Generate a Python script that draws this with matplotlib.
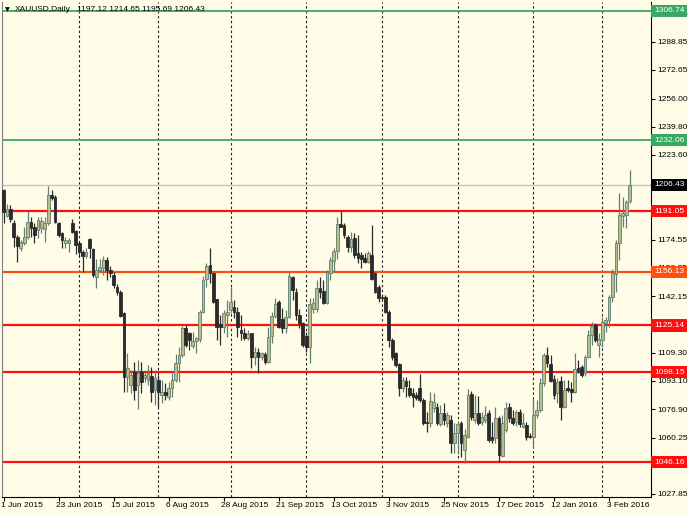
import matplotlib
matplotlib.use("Agg")
import matplotlib.pyplot as plt
import matplotlib.transforms as mtransforms
import numpy as np

plt.rcParams['font.family'] = ['Liberation Sans', 'DejaVu Sans']

# ---------------- data (XAUUSD daily) ----------------
opens = [1203.4, 1188.4, 1192.2, 1184.5, 1176.4, 1169.7, 1172.9, 1176.4, 1185.1, 1182.2,
         1180.3, 1181.2, 1180.6, 1184.1, 1200.5, 1199.1, 1184.5, 1178.3, 1172.6, 1172.6,
         1184.1, 1179.9, 1172.6, 1167.8, 1165.2, 1174.9, 1169.1, 1153.3, 1157.2, 1158.1,
         1162.9, 1157.2, 1154.3, 1147.2, 1144.2, 1132.1, 1095.6, 1090.5, 1098.5, 1090.8,
         1098.5, 1094.6, 1093.6, 1096.0, 1087.9, 1093.6, 1085.0, 1086.9, 1084.0, 1088.8,
         1093.6, 1103.3, 1108.1, 1123.9, 1120.6, 1113.3, 1116.4, 1117.1, 1133.1, 1151.8,
         1160.1, 1155.2, 1140.2, 1126.0, 1124.1, 1131.2, 1134.1, 1135.6, 1133.1, 1122.5,
         1121.0, 1117.7, 1120.6, 1107.1, 1109.6, 1107.1, 1108.7, 1104.2, 1119.1, 1130.6,
         1138.9, 1129.0, 1123.5, 1129.8, 1153.3, 1144.7, 1131.2, 1126.8, 1119.1, 1112.9,
         1134.9, 1134.5, 1146.6, 1145.2, 1138.3, 1155.6, 1162.5, 1168.3, 1183.7, 1183.2,
         1176.4, 1170.3, 1175.5, 1166.8, 1165.8, 1163.9, 1162.0, 1165.8, 1155.2, 1147.2,
         1141.8, 1141.8, 1133.1, 1116.7, 1109.0, 1102.9, 1088.8, 1093.1, 1088.8, 1086.0,
         1085.0, 1088.8, 1082.1, 1069.6, 1069.0, 1077.3, 1078.3, 1068.2, 1074.8, 1068.6,
         1070.6, 1057.1, 1062.9, 1068.6, 1053.2, 1060.9, 1085.6, 1070.6, 1074.4, 1069.6,
         1070.6, 1074.4, 1060.9, 1060.0, 1071.5, 1049.8, 1064.8, 1077.9, 1071.5, 1069.6,
         1075.4, 1066.7, 1067.7, 1061.3, 1060.9, 1073.4, 1076.3, 1091.7, 1108.1, 1102.9,
         1094.0, 1085.9, 1093.3, 1078.3, 1088.8, 1088.3, 1086.9, 1100.4, 1101.4, 1097.5,
         1107.1, 1119.6, 1125.4, 1113.9, 1116.7, 1126.4, 1128.3, 1141.8, 1154.9, 1172.9,
         1188.5, 1188.9, 1197.12]
highs = [1203.8, 1195.3, 1194.7, 1186.0, 1177.4, 1174.5, 1182.2, 1191.4, 1188.0, 1184.5,
         1187.6, 1187.6, 1188.0, 1205.7, 1203.4, 1200.5, 1185.1, 1179.3, 1176.4, 1175.5,
         1186.4, 1180.3, 1173.5, 1168.7, 1169.7, 1175.5, 1169.7, 1163.3, 1163.3, 1165.2,
         1164.9, 1159.5, 1156.2, 1149.1, 1145.6, 1133.1, 1109.0, 1099.4, 1104.2, 1105.2,
         1104.2, 1098.5, 1102.3, 1101.4, 1099.4, 1096.5, 1093.6, 1091.7, 1092.7, 1097.5,
         1108.7, 1112.9, 1124.8, 1125.4, 1121.6, 1121.6, 1118.7, 1134.1, 1153.7, 1161.0,
         1169.7, 1155.6, 1140.6, 1131.2, 1134.1, 1139.9, 1147.6, 1139.9, 1136.0, 1131.2,
         1123.5, 1122.5, 1121.0, 1112.9, 1111.9, 1110.0, 1110.0, 1124.4, 1133.1, 1140.8,
         1139.9, 1135.0, 1134.1, 1156.2, 1153.7, 1146.6, 1134.5, 1127.3, 1121.6, 1140.8,
         1140.8, 1151.4, 1153.3, 1151.4, 1157.2, 1164.9, 1169.7, 1188.0, 1191.4, 1184.5,
         1177.4, 1179.3, 1178.4, 1177.4, 1167.8, 1166.8, 1168.3, 1183.2, 1156.2, 1148.5,
         1142.2, 1142.7, 1134.1, 1117.7, 1110.0, 1103.3, 1095.6, 1095.6, 1093.6, 1088.8,
         1086.9, 1097.1, 1083.1, 1075.4, 1086.9, 1086.3, 1080.2, 1079.2, 1080.2, 1075.4,
         1073.4, 1068.6, 1069.6, 1070.2, 1065.2, 1088.3, 1087.3, 1085.0, 1084.4, 1075.4,
         1078.7, 1076.3, 1069.6, 1078.3, 1072.9, 1073.4, 1081.2, 1080.6, 1076.3, 1076.3,
         1076.7, 1074.4, 1069.6, 1062.9, 1082.5, 1082.1, 1094.6, 1109.4, 1112.5, 1108.1,
         1096.5, 1094.6, 1095.9, 1093.6, 1093.6, 1092.7, 1109.0, 1105.2, 1102.3, 1108.1,
         1122.5, 1127.3, 1126.4, 1120.6, 1130.2, 1130.2, 1142.7, 1157.5, 1174.5, 1201.4,
         1199.5, 1197.6, 1214.65]
lows = [1184.1, 1188.0, 1185.1, 1170.6, 1162.0, 1168.3, 1171.6, 1174.9, 1176.4, 1172.6,
        1175.5, 1178.3, 1173.5, 1183.1, 1197.6, 1184.1, 1176.4, 1169.7, 1169.7, 1167.8,
        1178.3, 1166.4, 1164.9, 1156.2, 1163.9, 1163.9, 1153.3, 1146.6, 1156.2, 1154.3,
        1151.4, 1153.3, 1146.6, 1142.7, 1130.2, 1086.5, 1086.9, 1085.9, 1082.1, 1076.7,
        1085.9, 1092.7, 1090.8, 1081.1, 1079.2, 1078.2, 1080.2, 1082.1, 1082.1, 1084.0,
        1092.7, 1092.7, 1107.1, 1112.9, 1111.0, 1111.9, 1109.0, 1115.8, 1132.2, 1147.6,
        1149.5, 1137.9, 1116.7, 1113.9, 1120.6, 1118.7, 1132.2, 1129.3, 1118.7, 1116.7,
        1116.7, 1116.7, 1100.4, 1102.3, 1097.9, 1105.2, 1102.9, 1103.3, 1114.8, 1129.3,
        1123.5, 1120.6, 1121.0, 1129.3, 1139.9, 1128.3, 1123.5, 1112.9, 1110.0, 1103.3,
        1132.2, 1133.1, 1140.8, 1137.5, 1137.5, 1151.4, 1156.2, 1163.3, 1182.2, 1175.5,
        1167.8, 1167.8, 1163.9, 1161.0, 1158.1, 1161.0, 1161.0, 1151.4, 1143.7, 1138.9,
        1139.9, 1132.2, 1112.9, 1105.2, 1101.4, 1084.4, 1086.9, 1084.0, 1084.0, 1078.3,
        1082.1, 1081.2, 1067.7, 1063.8, 1066.7, 1075.4, 1067.7, 1067.1, 1067.7, 1066.7,
        1051.7, 1051.3, 1050.9, 1049.4, 1045.9, 1060.0, 1070.6, 1068.6, 1067.7, 1067.7,
        1068.6, 1058.1, 1057.1, 1057.1, 1046.5, 1049.4, 1063.8, 1069.6, 1067.7, 1067.1,
        1066.7, 1065.7, 1059.0, 1059.9, 1055.2, 1071.5, 1075.4, 1090.2, 1101.4, 1092.7,
        1082.5, 1080.2, 1070.6, 1077.3, 1086.9, 1081.2, 1085.9, 1097.5, 1095.6, 1095.9,
        1106.2, 1113.9, 1115.8, 1107.1, 1112.9, 1121.6, 1124.4, 1138.9, 1144.7, 1162.9,
        1181.8, 1181.2, 1195.69]
closes = [1190.9, 1192.2, 1186.4, 1176.4, 1171.0, 1173.1, 1176.4, 1185.1, 1181.2, 1177.4,
          1186.0, 1185.7, 1184.5, 1200.5, 1198.6, 1185.1, 1177.4, 1174.5, 1174.5, 1174.5,
          1179.3, 1171.6, 1167.8, 1165.2, 1167.8, 1169.7, 1154.3, 1157.2, 1158.7, 1162.9,
          1157.2, 1155.2, 1148.5, 1144.6, 1130.6, 1095.6, 1100.4, 1096.5, 1087.9, 1097.5,
          1092.7, 1096.5, 1097.9, 1086.9, 1094.6, 1086.9, 1086.9, 1085.0, 1088.8, 1093.6,
          1103.7, 1108.1, 1123.5, 1113.9, 1116.7, 1116.4, 1117.7, 1133.1, 1151.4, 1159.5,
          1155.6, 1138.9, 1124.1, 1124.1, 1132.1, 1133.1, 1138.9, 1133.1, 1124.1, 1120.6,
          1117.7, 1120.2, 1107.1, 1109.6, 1106.8, 1109.0, 1104.2, 1118.7, 1130.6, 1137.5,
          1124.4, 1123.5, 1129.8, 1153.7, 1145.6, 1131.2, 1126.4, 1113.9, 1112.9, 1137.5,
          1137.9, 1146.6, 1144.7, 1138.3, 1156.2, 1162.9, 1168.3, 1183.7, 1182.2, 1177.4,
          1170.6, 1174.9, 1165.8, 1163.9, 1163.3, 1162.0, 1166.8, 1151.8, 1144.7, 1140.8,
          1140.8, 1133.1, 1116.7, 1107.1, 1102.3, 1088.8, 1093.6, 1090.2, 1085.0, 1084.0,
          1083.1, 1082.1, 1069.0, 1069.0, 1081.5, 1081.2, 1068.6, 1074.4, 1070.6, 1073.4,
          1057.1, 1063.2, 1068.2, 1057.1, 1061.9, 1085.0, 1072.5, 1074.4, 1068.6, 1072.5,
          1073.4, 1059.0, 1059.0, 1071.5, 1050.3, 1069.0, 1077.3, 1071.5, 1068.6, 1075.4,
          1068.2, 1068.6, 1060.9, 1060.5, 1073.4, 1076.3, 1092.1, 1108.1, 1103.3, 1093.3,
          1085.0, 1092.7, 1077.9, 1087.9, 1087.9, 1086.9, 1099.8, 1099.4, 1096.5, 1107.1,
          1119.6, 1124.8, 1116.7, 1117.1, 1127.3, 1128.3, 1141.8, 1155.2, 1172.9, 1188.9,
          1190.0, 1196.6, 1206.43]

date_labels = ["1 Jun 2015", "23 Jun 2015", "15 Jul 2015", "6 Aug 2015", "28 Aug 2015",
               "21 Sep 2015", "13 Oct 2015", "3 Nov 2015", "25 Nov 2015", "17 Dec 2015",
               "12 Jan 2016", "3 Feb 2016"]
date_label_bars = [0, 16, 32, 48, 64, 80, 96, 112, 128, 144, 160, 176]
month_start_bars = [22, 45, 66, 88, 110, 132, 154, 174]

price_ticks = [1027.85, 1044.05, 1060.25, 1076.90, 1093.10, 1109.30, 1125.50, 1142.15,
               1158.35, 1174.55, 1190.75, 1206.95, 1223.60, 1239.80, 1256.00, 1272.65,
               1288.85, 1305.05]
# tick labels fully covered by the level boxes are left blank
hidden_ticks = [1125.50, 1190.75, 1206.95]

level_values = [1306.74, 1232.06, 1191.05, 1156.13, 1125.14, 1098.15, 1046.16]
level_colors = ['#3aa865', '#3aa865', '#ff1010', '#ff5010', '#ff1010', '#ff1010', '#ff1010']
bid_price = 1206.43

symbol_title = "XAUUSD,Daily"
ohlc_title = "1197.12 1214.65 1195.69 1206.43"

# ---------------- figure ----------------
W, H = 688, 516
bg = '#fffde8'
fs = 6.0
fig = plt.figure(figsize=(W / 100, H / 100), dpi=100, facecolor=bg)
ax = fig.add_axes([2 / W, 19 / H, 649 / W, 495 / H])
ax.set_facecolor(bg)

n = len(closes)
x = np.arange(n)
o = np.array(opens); h = np.array(highs); l = np.array(lows); c = np.array(closes)
up = c >= o

bull_fill, bull_edge = '#bcbd84', '#5f7f74'
bear_fill, bear_edge = '#2b2b2b', '#2b2b2b'

# month grid
for b in month_start_bars:
    ax.axvline(b, color='#222222', lw=0.8, ls=(0, (2.2, 2.2)), zorder=1)

# levels
ax.axhline(bid_price, color='#c4c4c4', lw=1.0, zorder=1.5)
for v, col in zip(level_values, level_colors):
    ax.axhline(v, color=col, lw=1.6 if col != '#3aa865' else 1.3, zorder=1.6)

# wicks
ax.vlines(x[up], l[up], h[up], color=bull_edge, lw=0.9, zorder=2)
ax.vlines(x[~up], l[~up], h[~up], color=bear_edge, lw=0.9, zorder=2)
# bodies
body_h = np.maximum(np.abs(c - o), 0.35)
body_b = np.minimum(o, c)
ax.bar(x[up], body_h[up], bottom=body_b[up], width=0.8, color=bull_fill,
       edgecolor=bull_edge, linewidth=0.6, zorder=3)
ax.bar(x[~up], body_h[~up], bottom=body_b[~up], width=0.8, color=bear_fill,
       edgecolor=bear_edge, linewidth=0.6, zorder=3)

# limits
ax.set_xlim(-0.44, 188.2)
ax.set_ylim(1026.1, 1311.9)

# spines
ax.spines['top'].set_visible(False)
for s in ['left', 'bottom', 'right']:
    ax.spines[s].set_color('#000000')
    ax.spines[s].set_linewidth(0.8)
ax.spines['left'].set_color('#808080')

# y ticks on right
ax.yaxis.tick_right()
ax.set_yticks(price_ticks)
ax.set_yticklabels(["" if v in hidden_ticks else f"{v:.2f}" for v in price_ticks])
ax.tick_params(axis='y', which='both', direction='out', length=3, width=0.8,
               pad=1.5, labelsize=fs, colors='#000000', left=False)

# x ticks
ax.set_xticks(date_label_bars)
ax.set_xticklabels(date_labels)
ax.tick_params(axis='x', direction='out', length=3, width=0.8, pad=0.8,
               labelsize=fs, colors='#000000')
shift = mtransforms.ScaledTranslation(-2.5 / 100, 0, fig.dpi_scale_trans)
for lbl in ax.get_xticklabels():
    lbl.set_horizontalalignment('left')
    lbl.set_transform(lbl.get_transform() + shift)

# level label boxes on the right
trans = mtransforms.blended_transform_factory(ax.transAxes, ax.transData)
for v, col in zip(level_values, level_colors):
    ax.annotate(f"{v:.2f}", xy=(1.0, v), xycoords=trans, xytext=(2.2, 0),
                textcoords='offset points', ha='left', va='center', fontsize=fs,
                color='white', annotation_clip=False, zorder=20,
                bbox=dict(boxstyle='square,pad=0.32', fc=col, ec='none'))
ax.annotate(f"{bid_price:.2f}", xy=(1.0, bid_price), xycoords=trans, xytext=(2.2, 0),
            textcoords='offset points', ha='left', va='center', fontsize=fs,
            color='white', annotation_clip=False, zorder=20,
            bbox=dict(boxstyle='square,pad=0.32', fc='#000000', ec='none'))

# title
fig.text(5 / W, 1 - 9.5 / H, "▼", fontsize=4.5, va='center', ha='left', color='#000000',
         family=['DejaVu Sans'])
fig.text(15 / W, 1 - 9.5 / H, symbol_title, fontsize=fs, va='center', ha='left', color='#000000')
fig.text(77 / W, 1 - 9.5 / H, ohlc_title, fontsize=fs, va='center', ha='left', color='#000000')

fig.savefig("out.png", dpi=100, facecolor=bg)
